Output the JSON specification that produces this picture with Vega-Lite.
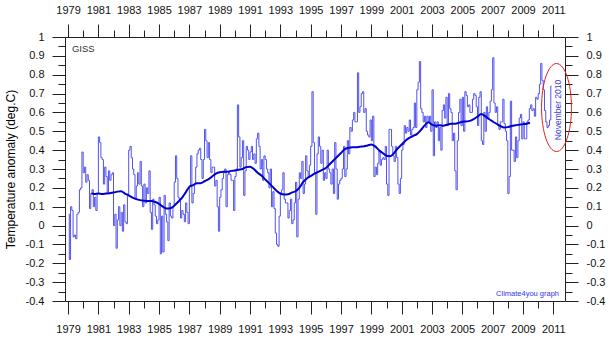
{
"$schema": "https://vega.github.io/schema/vega-lite/v6.json",
"width": 500, "height": 264,
"autosize": {"type": "none"},
"padding": {"left": 65, "top": 37, "right": 46, "bottom": 48},
"background": "white",
"config": {"view": {"stroke": null}, "font": "Liberation Sans",
  "axis": {"grid": false, "domainColor": "#222", "tickColor": "#222", "labelColor": "#111", "labelFontSize": 11, "labelFont": "Liberation Sans", "labelOverlap": false, "labelFlush": false, "labelBound": false}},
"datasets": {
"monthly": [
{"t":1979.042,"v":0.06},{"t":1979.125,"v":-0.18},{"t":1979.208,"v":0.10},{"t":1979.292,"v":0.08},{"t":1979.375,"v":-0.06},{"t":1979.458,"v":-0.05},{"t":1979.542,"v":-0.07},{"t":1979.625,"v":0.06},{"t":1979.708,"v":0.07},{"t":1979.792,"v":0.19},{"t":1979.875,"v":0.20},{"t":1979.958,"v":0.39},
{"t":1980.042,"v":0.28},{"t":1980.125,"v":0.31},{"t":1980.208,"v":0.23},{"t":1980.292,"v":0.27},{"t":1980.375,"v":0.24},{"t":1980.458,"v":0.09},{"t":1980.542,"v":0.17},{"t":1980.625,"v":0.19},{"t":1980.708,"v":0.10},{"t":1980.792,"v":0.15},{"t":1980.875,"v":0.08},{"t":1980.958,"v":0.17},
{"t":1981.042,"v":0.47},{"t":1981.125,"v":0.44},{"t":1981.208,"v":0.36},{"t":1981.292,"v":0.35},{"t":1981.375,"v":0.22},{"t":1981.458,"v":0.31},{"t":1981.542,"v":0.26},{"t":1981.625,"v":0.17},{"t":1981.708,"v":0.29},{"t":1981.792,"v":0.24},{"t":1981.875,"v":0.27},{"t":1981.958,"v":0.28},
{"t":1982.042,"v":0.00},{"t":1982.125,"v":0.06},{"t":1982.208,"v":-0.12},{"t":1982.292,"v":0.03},{"t":1982.375,"v":0.10},{"t":1982.458,"v":0.00},{"t":1982.542,"v":0.07},{"t":1982.625,"v":-0.03},{"t":1982.708,"v":0.11},{"t":1982.792,"v":0.02},{"t":1982.875,"v":0.01},{"t":1982.958,"v":0.16},
{"t":1983.042,"v":0.40},{"t":1983.125,"v":0.42},{"t":1983.208,"v":0.36},{"t":1983.292,"v":0.30},{"t":1983.375,"v":0.27},{"t":1983.458,"v":0.14},{"t":1983.542,"v":0.21},{"t":1983.625,"v":0.28},{"t":1983.708,"v":0.22},{"t":1983.792,"v":0.34},{"t":1983.875,"v":0.21},{"t":1983.958,"v":0.10},
{"t":1984.042,"v":0.22},{"t":1984.125,"v":0.12},{"t":1984.208,"v":0.20},{"t":1984.292,"v":0.17},{"t":1984.375,"v":0.29},{"t":1984.458,"v":0.07},{"t":1984.542,"v":-0.02},{"t":1984.625,"v":0.14},{"t":1984.708,"v":0.11},{"t":1984.792,"v":0.05},{"t":1984.875,"v":0.01},{"t":1984.958,"v":0.03},
{"t":1985.042,"v":0.15},{"t":1985.125,"v":-0.15},{"t":1985.208,"v":0.05},{"t":1985.292,"v":-0.14},{"t":1985.375,"v":0.16},{"t":1985.458,"v":0.06},{"t":1985.542,"v":0.02},{"t":1985.625,"v":-0.08},{"t":1985.708,"v":0.12},{"t":1985.792,"v":0.05},{"t":1985.875,"v":0.04},{"t":1985.958,"v":0.10},
{"t":1986.042,"v":0.23},{"t":1986.125,"v":0.37},{"t":1986.208,"v":0.25},{"t":1986.292,"v":0.15},{"t":1986.375,"v":0.13},{"t":1986.458,"v":0.04},{"t":1986.542,"v":0.08},{"t":1986.625,"v":0.06},{"t":1986.708,"v":0.02},{"t":1986.792,"v":0.12},{"t":1986.875,"v":0.07},{"t":1986.958,"v":0.01},
{"t":1987.042,"v":0.21},{"t":1987.125,"v":0.37},{"t":1987.208,"v":0.12},{"t":1987.292,"v":0.17},{"t":1987.375,"v":0.22},{"t":1987.458,"v":0.31},{"t":1987.542,"v":0.38},{"t":1987.625,"v":0.40},{"t":1987.708,"v":0.41},{"t":1987.792,"v":0.35},{"t":1987.875,"v":0.25},{"t":1987.958,"v":0.35},
{"t":1988.042,"v":0.51},{"t":1988.125,"v":0.45},{"t":1988.208,"v":0.36},{"t":1988.292,"v":0.44},{"t":1988.375,"v":0.35},{"t":1988.458,"v":0.28},{"t":1988.542,"v":0.31},{"t":1988.625,"v":0.31},{"t":1988.708,"v":0.21},{"t":1988.792,"v":0.24},{"t":1988.875,"v":0.10},{"t":1988.958,"v":-0.03},
{"t":1989.042,"v":0.15},{"t":1989.125,"v":0.19},{"t":1989.208,"v":0.25},{"t":1989.292,"v":0.28},{"t":1989.375,"v":0.30},{"t":1989.458,"v":0.10},{"t":1989.542,"v":0.27},{"t":1989.625,"v":0.28},{"t":1989.708,"v":0.27},{"t":1989.792,"v":0.24},{"t":1989.875,"v":0.24},{"t":1989.958,"v":0.08},
{"t":1990.042,"v":0.26},{"t":1990.125,"v":0.30},{"t":1990.208,"v":0.64},{"t":1990.292,"v":0.47},{"t":1990.375,"v":0.31},{"t":1990.458,"v":0.36},{"t":1990.542,"v":0.45},{"t":1990.625,"v":0.16},{"t":1990.708,"v":0.29},{"t":1990.792,"v":0.42},{"t":1990.875,"v":0.40},{"t":1990.958,"v":0.35},
{"t":1991.042,"v":0.39},{"t":1991.125,"v":0.42},{"t":1991.208,"v":0.35},{"t":1991.292,"v":0.38},{"t":1991.375,"v":0.33},{"t":1991.458,"v":0.46},{"t":1991.542,"v":0.49},{"t":1991.625,"v":0.42},{"t":1991.708,"v":0.30},{"t":1991.792,"v":0.35},{"t":1991.875,"v":0.24},{"t":1991.958,"v":0.37},
{"t":1992.042,"v":0.35},{"t":1992.125,"v":0.30},{"t":1992.208,"v":0.28},{"t":1992.292,"v":0.20},{"t":1992.375,"v":0.30},{"t":1992.458,"v":0.10},{"t":1992.542,"v":0.18},{"t":1992.625,"v":0.09},{"t":1992.708,"v":-0.04},{"t":1992.792,"v":-0.10},{"t":1992.875,"v":-0.11},{"t":1992.958,"v":0.05},
{"t":1993.042,"v":0.17},{"t":1993.125,"v":0.19},{"t":1993.208,"v":0.28},{"t":1993.292,"v":0.14},{"t":1993.375,"v":0.12},{"t":1993.458,"v":0.12},{"t":1993.542,"v":0.04},{"t":1993.625,"v":0.08},{"t":1993.708,"v":0.14},{"t":1993.792,"v":0.01},{"t":1993.875,"v":0.03},{"t":1993.958,"v":0.12},
{"t":1994.042,"v":0.23},{"t":1994.125,"v":-0.06},{"t":1994.208,"v":0.14},{"t":1994.292,"v":0.28},{"t":1994.375,"v":0.25},{"t":1994.458,"v":0.34},{"t":1994.542,"v":0.17},{"t":1994.625,"v":0.22},{"t":1994.708,"v":0.37},{"t":1994.792,"v":0.29},{"t":1994.875,"v":0.26},{"t":1994.958,"v":0.32},
{"t":1995.042,"v":0.42},{"t":1995.125,"v":0.71},{"t":1995.208,"v":0.44},{"t":1995.292,"v":0.28},{"t":1995.375,"v":0.06},{"t":1995.458,"v":0.38},{"t":1995.542,"v":0.47},{"t":1995.625,"v":0.42},{"t":1995.708,"v":0.33},{"t":1995.792,"v":0.40},{"t":1995.875,"v":0.24},{"t":1995.958,"v":0.28},
{"t":1996.042,"v":0.25},{"t":1996.125,"v":0.40},{"t":1996.208,"v":0.30},{"t":1996.292,"v":0.28},{"t":1996.375,"v":0.22},{"t":1996.458,"v":0.30},{"t":1996.542,"v":0.17},{"t":1996.625,"v":0.44},{"t":1996.708,"v":0.30},{"t":1996.792,"v":0.14},{"t":1996.875,"v":0.22},{"t":1996.958,"v":0.24},
{"t":1997.042,"v":0.25},{"t":1997.125,"v":0.30},{"t":1997.208,"v":0.42},{"t":1997.292,"v":0.26},{"t":1997.375,"v":0.30},{"t":1997.458,"v":0.45},{"t":1997.542,"v":0.38},{"t":1997.625,"v":0.52},{"t":1997.708,"v":0.50},{"t":1997.792,"v":0.56},{"t":1997.875,"v":0.60},{"t":1997.958,"v":0.55},
{"t":1998.042,"v":0.55},{"t":1998.125,"v":0.81},{"t":1998.208,"v":0.60},{"t":1998.292,"v":0.63},{"t":1998.375,"v":0.70},{"t":1998.458,"v":0.71},{"t":1998.542,"v":0.60},{"t":1998.625,"v":0.62},{"t":1998.708,"v":0.50},{"t":1998.792,"v":0.48},{"t":1998.875,"v":0.47},{"t":1998.958,"v":0.56},
{"t":1999.042,"v":0.45},{"t":1999.125,"v":0.58},{"t":1999.208,"v":0.26},{"t":1999.292,"v":0.31},{"t":1999.375,"v":0.27},{"t":1999.458,"v":0.33},{"t":1999.542,"v":0.40},{"t":1999.625,"v":0.32},{"t":1999.708,"v":0.35},{"t":1999.792,"v":0.36},{"t":1999.875,"v":0.35},{"t":1999.958,"v":0.42},
{"t":2000.042,"v":0.22},{"t":2000.125,"v":0.16},{"t":2000.208,"v":0.51},{"t":2000.292,"v":0.51},{"t":2000.375,"v":0.42},{"t":2000.458,"v":0.37},{"t":2000.542,"v":0.34},{"t":2000.625,"v":0.42},{"t":2000.708,"v":0.36},{"t":2000.792,"v":0.22},{"t":2000.875,"v":0.17},{"t":2000.958,"v":0.25},
{"t":2001.042,"v":0.40},{"t":2001.125,"v":0.43},{"t":2001.208,"v":0.53},{"t":2001.292,"v":0.49},{"t":2001.375,"v":0.52},{"t":2001.458,"v":0.50},{"t":2001.542,"v":0.56},{"t":2001.625,"v":0.48},{"t":2001.708,"v":0.51},{"t":2001.792,"v":0.52},{"t":2001.875,"v":0.65},{"t":2001.958,"v":0.52},
{"t":2002.042,"v":0.72},{"t":2002.125,"v":0.76},{"t":2002.208,"v":0.87},{"t":2002.292,"v":0.62},{"t":2002.375,"v":0.60},{"t":2002.458,"v":0.55},{"t":2002.542,"v":0.58},{"t":2002.625,"v":0.52},{"t":2002.708,"v":0.58},{"t":2002.792,"v":0.55},{"t":2002.875,"v":0.58},{"t":2002.958,"v":0.50},
{"t":2003.042,"v":0.72},{"t":2003.125,"v":0.37},{"t":2003.208,"v":0.55},{"t":2003.292,"v":0.52},{"t":2003.375,"v":0.55},{"t":2003.458,"v":0.45},{"t":2003.542,"v":0.52},{"t":2003.625,"v":0.40},{"t":2003.708,"v":0.61},{"t":2003.792,"v":0.64},{"t":2003.875,"v":0.57},{"t":2003.958,"v":0.68},
{"t":2004.042,"v":0.53},{"t":2004.125,"v":0.70},{"t":2004.208,"v":0.62},{"t":2004.292,"v":0.60},{"t":2004.375,"v":0.45},{"t":2004.458,"v":0.49},{"t":2004.542,"v":0.29},{"t":2004.625,"v":0.19},{"t":2004.708,"v":0.45},{"t":2004.792,"v":0.60},{"t":2004.875,"v":0.67},{"t":2004.958,"v":0.53},
{"t":2005.042,"v":0.68},{"t":2005.125,"v":0.50},{"t":2005.208,"v":0.71},{"t":2005.292,"v":0.69},{"t":2005.375,"v":0.63},{"t":2005.458,"v":0.64},{"t":2005.542,"v":0.60},{"t":2005.625,"v":0.60},{"t":2005.708,"v":0.67},{"t":2005.792,"v":0.70},{"t":2005.875,"v":0.69},{"t":2005.958,"v":0.63},
{"t":2006.042,"v":0.53},{"t":2006.125,"v":0.68},{"t":2006.208,"v":0.71},{"t":2006.292,"v":0.45},{"t":2006.375,"v":0.43},{"t":2006.458,"v":0.60},{"t":2006.542,"v":0.50},{"t":2006.625,"v":0.63},{"t":2006.708,"v":0.57},{"t":2006.792,"v":0.60},{"t":2006.875,"v":0.66},{"t":2006.958,"v":0.72},
{"t":2007.042,"v":0.89},{"t":2007.125,"v":0.65},{"t":2007.208,"v":0.60},{"t":2007.292,"v":0.63},{"t":2007.375,"v":0.53},{"t":2007.458,"v":0.51},{"t":2007.542,"v":0.55},{"t":2007.625,"v":0.55},{"t":2007.708,"v":0.67},{"t":2007.792,"v":0.54},{"t":2007.875,"v":0.50},{"t":2007.958,"v":0.45},
{"t":2008.042,"v":0.17},{"t":2008.125,"v":0.26},{"t":2008.208,"v":0.66},{"t":2008.292,"v":0.40},{"t":2008.375,"v":0.40},{"t":2008.458,"v":0.34},{"t":2008.542,"v":0.47},{"t":2008.625,"v":0.36},{"t":2008.708,"v":0.45},{"t":2008.792,"v":0.57},{"t":2008.875,"v":0.59},{"t":2008.958,"v":0.46},
{"t":2009.042,"v":0.55},{"t":2009.125,"v":0.46},{"t":2009.208,"v":0.46},{"t":2009.292,"v":0.55},{"t":2009.375,"v":0.56},{"t":2009.458,"v":0.62},{"t":2009.542,"v":0.64},{"t":2009.625,"v":0.61},{"t":2009.708,"v":0.62},{"t":2009.792,"v":0.58},{"t":2009.875,"v":0.68},{"t":2009.958,"v":0.67},
{"t":2010.042,"v":0.70},{"t":2010.125,"v":0.75},{"t":2010.208,"v":0.86},{"t":2010.292,"v":0.77},{"t":2010.375,"v":0.72},{"t":2010.458,"v":0.61},{"t":2010.542,"v":0.55},{"t":2010.625,"v":0.52},{"t":2010.708,"v":0.53},{"t":2010.792,"v":0.56},{"t":2010.875,"v":0.74}
],
"mean": [
{"t":1980.54,"v":0.170},{"t":1980.75,"v":0.168},{"t":1981.0,"v":0.170},{"t":1981.25,"v":0.168},{"t":1981.5,"v":0.170},{"t":1981.75,"v":0.172},{"t":1982.0,"v":0.175},{"t":1982.25,"v":0.180},{"t":1982.5,"v":0.182},{"t":1982.75,"v":0.170},
{"t":1983.0,"v":0.160},{"t":1983.25,"v":0.148},{"t":1983.5,"v":0.140},{"t":1983.75,"v":0.135},{"t":1984.0,"v":0.132},{"t":1984.25,"v":0.130},{"t":1984.5,"v":0.130},{"t":1984.75,"v":0.125},{"t":1985.0,"v":0.115},{"t":1985.25,"v":0.100},
{"t":1985.5,"v":0.090},{"t":1985.75,"v":0.092},{"t":1986.0,"v":0.105},{"t":1986.25,"v":0.125},{"t":1986.5,"v":0.145},{"t":1986.75,"v":0.175},{"t":1987.0,"v":0.205},{"t":1987.25,"v":0.215},{"t":1987.5,"v":0.225},{"t":1987.75,"v":0.225},
{"t":1988.0,"v":0.235},{"t":1988.25,"v":0.245},{"t":1988.5,"v":0.260},{"t":1988.75,"v":0.275},{"t":1989.0,"v":0.283},{"t":1989.25,"v":0.285},{"t":1989.5,"v":0.285},{"t":1989.75,"v":0.290},{"t":1990.0,"v":0.292},{"t":1990.25,"v":0.296},
{"t":1990.5,"v":0.300},{"t":1990.75,"v":0.310},{"t":1991.0,"v":0.312},{"t":1991.25,"v":0.300},{"t":1991.5,"v":0.280},{"t":1991.75,"v":0.265},{"t":1992.0,"v":0.245},{"t":1992.25,"v":0.225},{"t":1992.5,"v":0.205},{"t":1992.75,"v":0.185},
{"t":1993.0,"v":0.170},{"t":1993.25,"v":0.165},{"t":1993.5,"v":0.166},{"t":1993.75,"v":0.175},{"t":1994.0,"v":0.182},{"t":1994.25,"v":0.200},{"t":1994.5,"v":0.230},{"t":1994.75,"v":0.250},{"t":1995.0,"v":0.262},{"t":1995.25,"v":0.275},
{"t":1995.5,"v":0.285},{"t":1995.75,"v":0.295},{"t":1996.0,"v":0.305},{"t":1996.25,"v":0.325},{"t":1996.5,"v":0.345},{"t":1996.75,"v":0.365},{"t":1997.0,"v":0.385},{"t":1997.25,"v":0.405},{"t":1997.5,"v":0.412},{"t":1997.75,"v":0.415},
{"t":1998.0,"v":0.415},{"t":1998.25,"v":0.418},{"t":1998.5,"v":0.420},{"t":1998.75,"v":0.425},{"t":1999.0,"v":0.430},{"t":1999.25,"v":0.420},{"t":1999.5,"v":0.400},{"t":1999.75,"v":0.385},{"t":2000.0,"v":0.370},{"t":2000.25,"v":0.368},
{"t":2000.5,"v":0.385},{"t":2000.75,"v":0.410},{"t":2001.0,"v":0.430},{"t":2001.25,"v":0.450},{"t":2001.5,"v":0.465},{"t":2001.75,"v":0.475},{"t":2002.0,"v":0.485},{"t":2002.25,"v":0.505},{"t":2002.5,"v":0.530},{"t":2002.75,"v":0.548},
{"t":2003.0,"v":0.535},{"t":2003.25,"v":0.530},{"t":2003.5,"v":0.532},{"t":2003.75,"v":0.530},{"t":2004.0,"v":0.535},{"t":2004.25,"v":0.540},{"t":2004.5,"v":0.540},{"t":2004.75,"v":0.545},{"t":2005.0,"v":0.550},{"t":2005.25,"v":0.552},
{"t":2005.5,"v":0.555},{"t":2005.75,"v":0.565},{"t":2006.0,"v":0.578},{"t":2006.25,"v":0.592},{"t":2006.5,"v":0.580},{"t":2006.75,"v":0.565},{"t":2007.0,"v":0.552},{"t":2007.25,"v":0.540},{"t":2007.5,"v":0.528},{"t":2007.75,"v":0.520},
{"t":2008.0,"v":0.522},{"t":2008.25,"v":0.528},{"t":2008.5,"v":0.532},{"t":2008.75,"v":0.535},{"t":2009.0,"v":0.538},{"t":2009.25,"v":0.540},{"t":2009.46,"v":0.545}
],
"notes": [
{"t":1979.26,"v":0.92,"label":"GISS","kind":"giss"},
{"t":2011.375,"v":-0.371,"label":"Climate4you graph","kind":"credit"},
{"t":2011.34,"v":0.613,"label":"November 2010","kind":"nov"},
{"t":2011.21,"v":0.626,"label":"","kind":"ellipse"}
]
},
"layer": [
{
"data": {"name": "monthly"},
"mark": {"type": "line", "interpolate": "step", "color": "#5252ee", "strokeWidth": 1},
"encoding": {
"x": {"field": "t", "type": "quantitative",
  "scale": {"domain": [1978.8, 2011.77], "nice": false, "zero": false},
  "axis": {"orient": "bottom", "title": null,
    "values": [1979,1980,1981,1982,1983,1984,1985,1986,1987,1988,1989,1990,1991,1992,1993,1994,1995,1996,1997,1998,1999,2000,2001,2002,2003,2004,2005,2006,2007,2008,2009,2010,2011],
    "labelExpr": "datum.value % 2 == 1 ? '' + datum.value : ''",
    "tickSize": {"condition": {"test": "datum.value % 2 == 1", "value": 13}, "value": 7},
    "labelPadding": 9}},
"y": {"field": "v", "type": "quantitative",
  "scale": {"domain": [-0.4, 1.0], "nice": false, "zero": false},
  "axis": {"orient": "left", "title": "Temperature anomaly (deg.C)",
    "titleFontSize": 12, "titleFontWeight": "normal", "titleColor": "#000", "titleFont": "Liberation Sans",
    "titleX": -55, "titleY": 132, "titleAngle": 270, "titleBaseline": "middle", "titleAlign": "center",
    "values": [-0.4,-0.35,-0.3,-0.25,-0.2,-0.15,-0.1,-0.05,0,0.05,0.1,0.15,0.2,0.25,0.3,0.35,0.4,0.45,0.5,0.55,0.6,0.65,0.7,0.75,0.8,0.85,0.9,0.95,1],
    "labelExpr": "abs(datum.value*10 - round(datum.value*10)) < 0.001 ? '' + datum.value : ''",
    "tickSize": {"condition": {"test": "abs(datum.value*10 - round(datum.value*10)) < 0.001", "value": 13}, "value": 7},
    "labelPadding": 8}}
}
},
{
"data": {"name": "mean"},
"mark": {"type": "line", "interpolate": "monotone", "color": "#0000cc", "strokeWidth": 2},
"encoding": {
"x": {"field": "t", "type": "quantitative",
  "axis": {"orient": "top", "title": null,
    "values": [1979,1980,1981,1982,1983,1984,1985,1986,1987,1988,1989,1990,1991,1992,1993,1994,1995,1996,1997,1998,1999,2000,2001,2002,2003,2004,2005,2006,2007,2008,2009,2010,2011],
    "labelExpr": "datum.value % 2 == 1 ? '' + datum.value : ''",
    "tickSize": {"condition": {"test": "datum.value % 2 == 1", "value": 13}, "value": 7},
    "labelPadding": 9}},
"y": {"field": "v", "type": "quantitative",
  "axis": {"orient": "right", "title": null,
    "values": [-0.4,-0.35,-0.3,-0.25,-0.2,-0.15,-0.1,-0.05,0,0.05,0.1,0.15,0.2,0.25,0.3,0.35,0.4,0.45,0.5,0.55,0.6,0.65,0.7,0.75,0.8,0.85,0.9,0.95,1],
    "labelExpr": "abs(datum.value*10 - round(datum.value*10)) < 0.001 ? '' + datum.value : ''",
    "tickSize": {"condition": {"test": "abs(datum.value*10 - round(datum.value*10)) < 0.001", "value": 13}, "value": 7},
    "labelPadding": 8}}
}
},
{
"data": {"name": "notes"},
"transform": [{"filter": "datum.kind == 'ellipse'"}],
"mark": {"type": "point", "shape": "M0,-1A0.34,1,0,1,1,0,1A0.34,1,0,1,1,0,-1Z", "size": 7744, "filled": false, "stroke": "#dd2020", "strokeWidth": 1, "opacity": 1},
"encoding": {"x": {"field": "t", "type": "quantitative", "axis": null}, "y": {"field": "v", "type": "quantitative", "axis": null}}
},
{
"data": {"name": "notes"},
"transform": [{"filter": "datum.kind == 'nov'"}],
"mark": {"type": "text", "angle": 270, "align": "center", "baseline": "middle", "fontSize": 8.5, "color": "#3c3cd8", "font": "Liberation Sans"},
"encoding": {"x": {"field": "t", "type": "quantitative", "axis": null}, "y": {"field": "v", "type": "quantitative", "axis": null}, "text": {"field": "label"}}
},
{
"data": {"name": "notes"},
"transform": [{"filter": "datum.kind == 'giss'"}],
"mark": {"type": "text", "align": "left", "baseline": "alphabetic", "fontSize": 9.5, "color": "#333", "font": "Liberation Sans"},
"encoding": {"x": {"field": "t", "type": "quantitative", "axis": null}, "y": {"field": "v", "type": "quantitative", "axis": null}, "text": {"field": "label"}}
},
{
"data": {"name": "notes"},
"transform": [{"filter": "datum.kind == 'credit'"}],
"mark": {"type": "text", "align": "right", "baseline": "alphabetic", "fontSize": 7.5, "color": "#3333ee", "font": "Liberation Sans"},
"encoding": {"x": {"field": "t", "type": "quantitative", "axis": null}, "y": {"field": "v", "type": "quantitative", "axis": null}, "text": {"field": "label"}}
}
]
}
